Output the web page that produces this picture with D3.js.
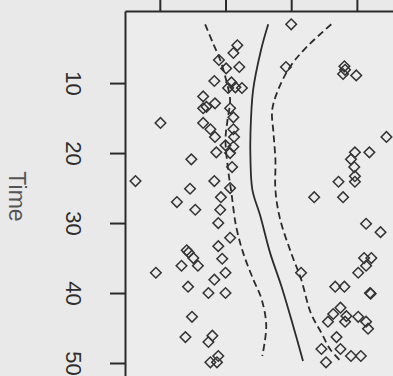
<!DOCTYPE html>
<html>
<head>
<meta charset="utf-8">
<script src="https://cdn.jsdelivr.net/npm/d3@7"></script>
<style>
  html, body { margin: 0; padding: 0; background: #e9e9e9; }
  svg { display: block; }
</style>
</head>
<body>
<div id="chart"></div>
<script>
// scatter points: time along the vertical axis, value along the horizontal one
const pointTime = [4.6, 5.7, 6.7, 7.9, 7.7, 9.7, 9.9, 10.7, 10.6, 10.7, 11.9, 12.9, 13.6, 13.4, 13.6, 14.9,
    15.7, 15.7, 16.6, 16.6, 17.7, 17.7, 18.9, 19.1, 19.9, 20.0, 20.9, 22.0, 24.0, 24.0, 25.0, 25.1, 27.0,
    26.3, 28.1, 28.1, 30.0, 32.1, 33.3, 33.9, 34.2, 35.0, 36.1, 36.1, 35.1, 37.1, 37.1, 38.1, 39.1, 40.0,
    40.0, 43.4, 46.3, 46.1, 47.0, 49.0, 49.9, 49.9,
    1.6, 7.7, 7.6, 8.1, 8.7, 8.9, 17.7, 19.9, 19.9, 20.9, 22.0, 23.3, 24.1, 24.1, 26.3, 26.3, 30.1, 31.3,
    35.0, 35.0, 36.1, 37.1, 37.1, 39.1, 39.1, 40.0, 40.1, 42.1, 43.0, 43.3, 43.4, 44.1, 44.1, 44.1, 45.1,
    46.3, 48.0, 48.0, 49.0, 49.0, 49.9];
const pointValue = [3.18, 3.12, 2.90, 3.01, 3.21, 2.83, 3.09, 3.04, 3.15, 3.25, 2.66, 2.84, 2.66, 2.71, 3.07, 3.12,
    2.01, 2.66, 2.77, 3.12, 2.84, 3.13, 3.00, 3.12, 2.86, 3.07, 2.48, 3.10, 1.63, 2.83, 3.07, 2.46, 2.26,
    2.93, 2.54, 2.92, 2.89, 3.07, 2.89, 2.41, 2.44, 2.51, 2.58, 2.33, 2.95, 1.94, 3.00, 2.83, 2.43, 2.74,
    3.00, 2.49, 2.39, 2.80, 2.74, 2.89, 2.77, 2.87,
    4.00, 3.92, 4.81, 4.82, 4.79, 4.99, 5.45, 4.97, 5.19, 4.91, 4.96, 4.97, 4.97, 4.72, 4.35, 4.79, 5.14, 5.36,
    5.11, 5.22, 5.14, 5.02, 4.15, 4.67, 4.81, 5.20, 5.21, 4.75, 4.64, 4.84, 5.02, 4.56, 4.82, 5.14, 5.17,
    4.69, 4.46, 4.75, 4.91, 5.06, 4.53];

// fitted curve and its two bands
const fitTime = [1.6, 5.3, 11.0, 17.1, 21.0, 25.3, 29.0, 34.3, 39.0, 44.7, 49.7];
const fitValue = [3.65, 3.54, 3.42, 3.38, 3.38, 3.41, 3.53, 3.68, 3.85, 4.03, 4.18];

const lowerTime = [1.6, 4.3, 6.7, 9.6, 12.4, 15.3, 18.1, 22.4, 25.7, 30.4, 34.3, 38.0, 40.9, 44.7, 49.0];
const lowerValue = [2.69, 2.81, 2.92, 3.01, 3.07, 3.03, 3.00, 3.04, 3.09, 3.16, 3.27, 3.42, 3.55, 3.62, 3.56];

const upperTime = [1.6, 4.9, 7.7, 11.0, 13.9, 17.1, 21.0, 25.3, 29.4, 34.3, 38.0, 42.9, 45.7, 48.0, 49.7];
const upperValue = [4.61, 4.23, 3.98, 3.80, 3.71, 3.73, 3.76, 3.76, 3.83, 4.00, 4.15, 4.30, 4.46, 4.59, 4.75];

const timeTicks = [10, 20, 30, 40, 50];
const valueTicks = [2, 3, 4, 5];

const W = 393, H = 376;
const ink = "#2b2b2b";

const svg = d3.select("#chart").append("svg")
    .attr("width", W)
    .attr("height", H)
    .style("font-family", "'Liberation Sans', Arial, sans-serif");

const x = d3.scaleLinear().domain([1.47, 5.6]).range([125, 396.3]);
const y = d3.scaleLinear().domain([-0.3, 52]).range([11, 377]);

// plot panel
svg.append("rect")
    .attr("x", x.range()[0]).attr("y", y.range()[0])
    .attr("width", W).attr("height", H)
    .attr("fill", "#ececec");

// top axis (ticks only, labels are outside the picture)
const topAxis = svg.append("g")
    .attr("transform", `translate(0,${y.range()[0]})`)
    .call(d3.axisTop(x).tickValues(valueTicks).tickFormat("").tickSize(12).tickSizeOuter(0));

// left axis: time
const leftAxis = svg.append("g")
    .attr("transform", `translate(${x.range()[0]},0)`)
    .call(d3.axisLeft(y).tickValues(timeTicks).tickSize(15).tickSizeOuter(0));

[topAxis, leftAxis].forEach(g => {
    g.selectAll("path, line").attr("stroke", ink).attr("stroke-width", 2);
});

leftAxis.selectAll("text")
    .attr("x", null).attr("dy", "0.35em")
    .attr("transform", "translate(-51,0) rotate(90)")
    .attr("text-anchor", "middle")
    .attr("fill", "#2e2e2e")
    .style("font-size", "22px")
    .style("font-family", "'Liberation Sans', Arial, sans-serif");

svg.append("text")
    .attr("transform", `translate(17,${y(26.2)}) rotate(90)`)
    .attr("dy", "0.35em")
    .attr("text-anchor", "middle")
    .attr("fill", "#555")
    .style("font-size", "23px")
    .text("Time");

// curves
const line = d3.line()
    .x(d => x(d[1]))
    .y(d => y(d[0]))
    .curve(d3.curveCatmullRom);

const curves = [
    { time: fitTime, value: fitValue, dash: null },
    { time: lowerTime, value: lowerValue, dash: "7,4" },
    { time: upperTime, value: upperValue, dash: "7,4" }
];

curves.forEach(c => {
    svg.append("path")
        .datum(c.time.map((t, i) => [t, c.value[i]]))
        .attr("d", line)
        .attr("fill", "none")
        .attr("stroke", ink)
        .attr("stroke-width", 1.8)
        .attr("stroke-dasharray", c.dash);
});

// points, drawn as open diamonds
const diamond = d3.symbol().type(d3.symbolSquare).size(56);
svg.append("g")
    .selectAll("path")
    .data(pointTime.map((t, i) => ({ t: t, v: pointValue[i] })))
    .enter()
    .append("path")
    .attr("d", diamond)
    .attr("transform", d => `translate(${x(d.v)},${y(d.t)}) rotate(45)`)
    .attr("fill", "none")
    .attr("stroke", "#333")
    .attr("stroke-width", 1.5);
</script>
</body>
</html>
